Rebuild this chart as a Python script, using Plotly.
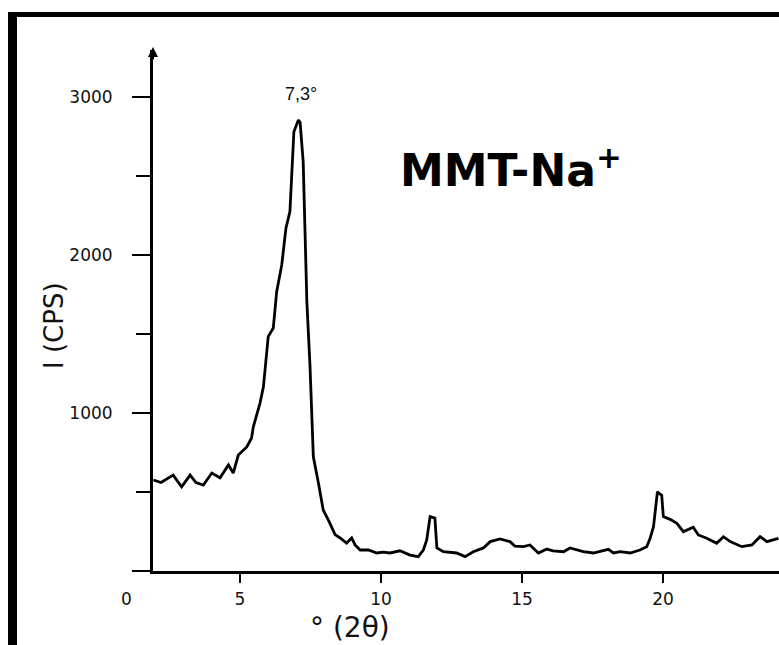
import plotly.graph_objects as go

# 2-theta (degrees) and intensity (CPS)
two_theta = [1.93, 2.20, 2.63, 2.93, 3.23, 3.44, 3.70, 4.00, 4.29, 4.59, 4.76, 4.94,
             5.24, 5.41, 5.47, 5.59, 5.71, 5.83, 5.89, 6.00, 6.18, 6.30, 6.48, 6.63,
             6.77, 6.91, 7.07, 7.13, 7.24, 7.37, 7.48, 7.60, 7.78, 7.95, 8.13, 8.37,
             8.55, 8.78, 8.96, 9.08, 9.26, 9.55, 9.85, 10.07, 10.32, 10.67, 11.03, 11.32,
             11.50, 11.62, 11.74, 11.91, 11.98, 12.21, 12.68, 12.98, 13.27, 13.63, 13.87, 14.22,
             14.57, 14.75, 15.05, 15.28, 15.58, 15.88, 16.10, 16.47, 16.70, 17.17, 17.53, 18.06,
             18.24, 18.48, 18.83, 19.18, 19.42, 19.54, 19.66, 19.80, 19.86, 19.95, 20.01, 20.25,
             20.49, 20.72, 21.07, 21.25, 21.55, 21.90, 22.14, 22.38, 22.79, 23.15, 23.44, 23.68,
             24.09]
intensity = [576, 560, 607, 532, 607, 560, 544, 620, 590, 671, 620, 734,
             785, 842, 911, 987, 1063, 1165, 1272, 1483, 1538, 1768, 1937, 2171,
             2274, 2780, 2854, 2840, 2591, 1704, 1304, 723, 557, 386, 323, 230,
             209, 177, 209, 165, 133, 133, 114, 120, 114, 128, 101, 91,
             133, 196, 344, 335, 146, 122, 114, 91, 122, 146, 186, 203,
             186, 158, 154, 165, 114, 139, 128, 122, 146, 122, 114, 137,
             114, 122, 114, 133, 154, 207, 280, 502, 490, 481, 344, 327,
             302, 249, 277, 228, 207, 175, 217, 186, 154, 165, 217, 186,
             207]

y_tickvals = [0, 1000, 2000, 3000]
y_ticktext = ["", "1000", "2000", "3000"]
x_tickvals = [5, 10, 15, 20]
x_ticktext = ["5", "10", "15", "20"]

peak_label = "7,3°"
sample_label = "MMT-Na<sup>+</sup>"
x_title = "° (2θ)"
y_title = "I (CPS)"

W, H = 779, 645
L, R, T, B = 153, 0, 50, 74
pw, ph = W - L - R, H - T - B

def px_x(p):
    return (p - L) / pw

def px_y(p):
    return (H - B - p) / ph

tick_font = dict(family="DejaVu Sans", size=17, color="#111111")

fig = go.Figure()
fig.add_trace(go.Scatter(x=two_theta, y=intensity, mode="lines",
                         line=dict(color="black", width=2.8), hoverinfo="skip",
                         showlegend=False))

fig.update_layout(
    width=W, height=H,
    margin=dict(l=L, r=R, t=T, b=B, pad=0),
    paper_bgcolor="white", plot_bgcolor="white",
    showlegend=False,
    xaxis=dict(range=[1.915, 24.11], showgrid=False, zeroline=False,
               showline=True, linecolor="black", linewidth=3,
               tickvals=x_tickvals, ticktext=x_ticktext,
               ticks="outside", ticklen=9, tickwidth=2, tickcolor="black",
               tickfont=tick_font, ticklabelstandoff=2),
    yaxis=dict(range=[0, 3297], showgrid=False, zeroline=False,
               showline=True, linecolor="black", linewidth=3,
               tickvals=y_tickvals, ticktext=y_ticktext,
               ticks="outside", ticklen=18, tickwidth=2, tickcolor="black",
               tickfont=tick_font, ticklabelstandoff=16,
               minor=dict(tickvals=[500, 1500, 2500], ticks="outside",
                          ticklen=14, tickwidth=2, tickcolor="black")),
)

# frame bars of the original picture
fig.add_shape(type="rect", xref="paper", yref="paper",
              x0=px_x(8), x1=px_x(17), y0=px_y(650), y1=px_y(12),
              fillcolor="black", line=dict(width=0), layer="above")
fig.add_shape(type="rect", xref="paper", yref="paper",
              x0=px_x(8), x1=px_x(785), y0=px_y(17), y1=px_y(12),
              fillcolor="black", line=dict(width=0), layer="above")

# axis arrow at top
fig.add_annotation(xref="paper", yref="paper", x=0, y=px_y(47), ax=0, ay=14,
                   showarrow=True, arrowhead=2, arrowsize=1, arrowwidth=2,
                   arrowcolor="black", text="")

fig.add_annotation(xref="x", yref="y", x=7.16, y=3019, text=peak_label,
                   xanchor="center", yanchor="middle", showarrow=False,
                   font=dict(family="Liberation Sans", size=18, color="#111111"))
fig.add_annotation(xref="paper", yref="paper", x=px_x(398), y=px_y(168),
                   text="<b>" + sample_label + "</b>",
                   xanchor="left", yanchor="middle", showarrow=False,
                   font=dict(family="DejaVu Sans", size=44, color="black"))
fig.add_annotation(xref="paper", yref="paper", x=px_x(126), y=px_y(599), text="0",
                   xanchor="center", yanchor="middle", showarrow=False, font=tick_font)
fig.add_annotation(xref="paper", yref="paper", x=px_x(54), y=px_y(326), text=y_title,
                   textangle=-90, xanchor="center", yanchor="middle", showarrow=False,
                   font=dict(family="DejaVu Sans", size=26, color="#111111"))
fig.add_annotation(xref="paper", yref="paper", x=px_x(350), y=px_y(627), text=x_title,
                   xanchor="center", yanchor="middle", showarrow=False,
                   font=dict(family="DejaVu Sans", size=28, color="#111111"))

fig.write_html("out.html", config={"displayModeBar": False})
